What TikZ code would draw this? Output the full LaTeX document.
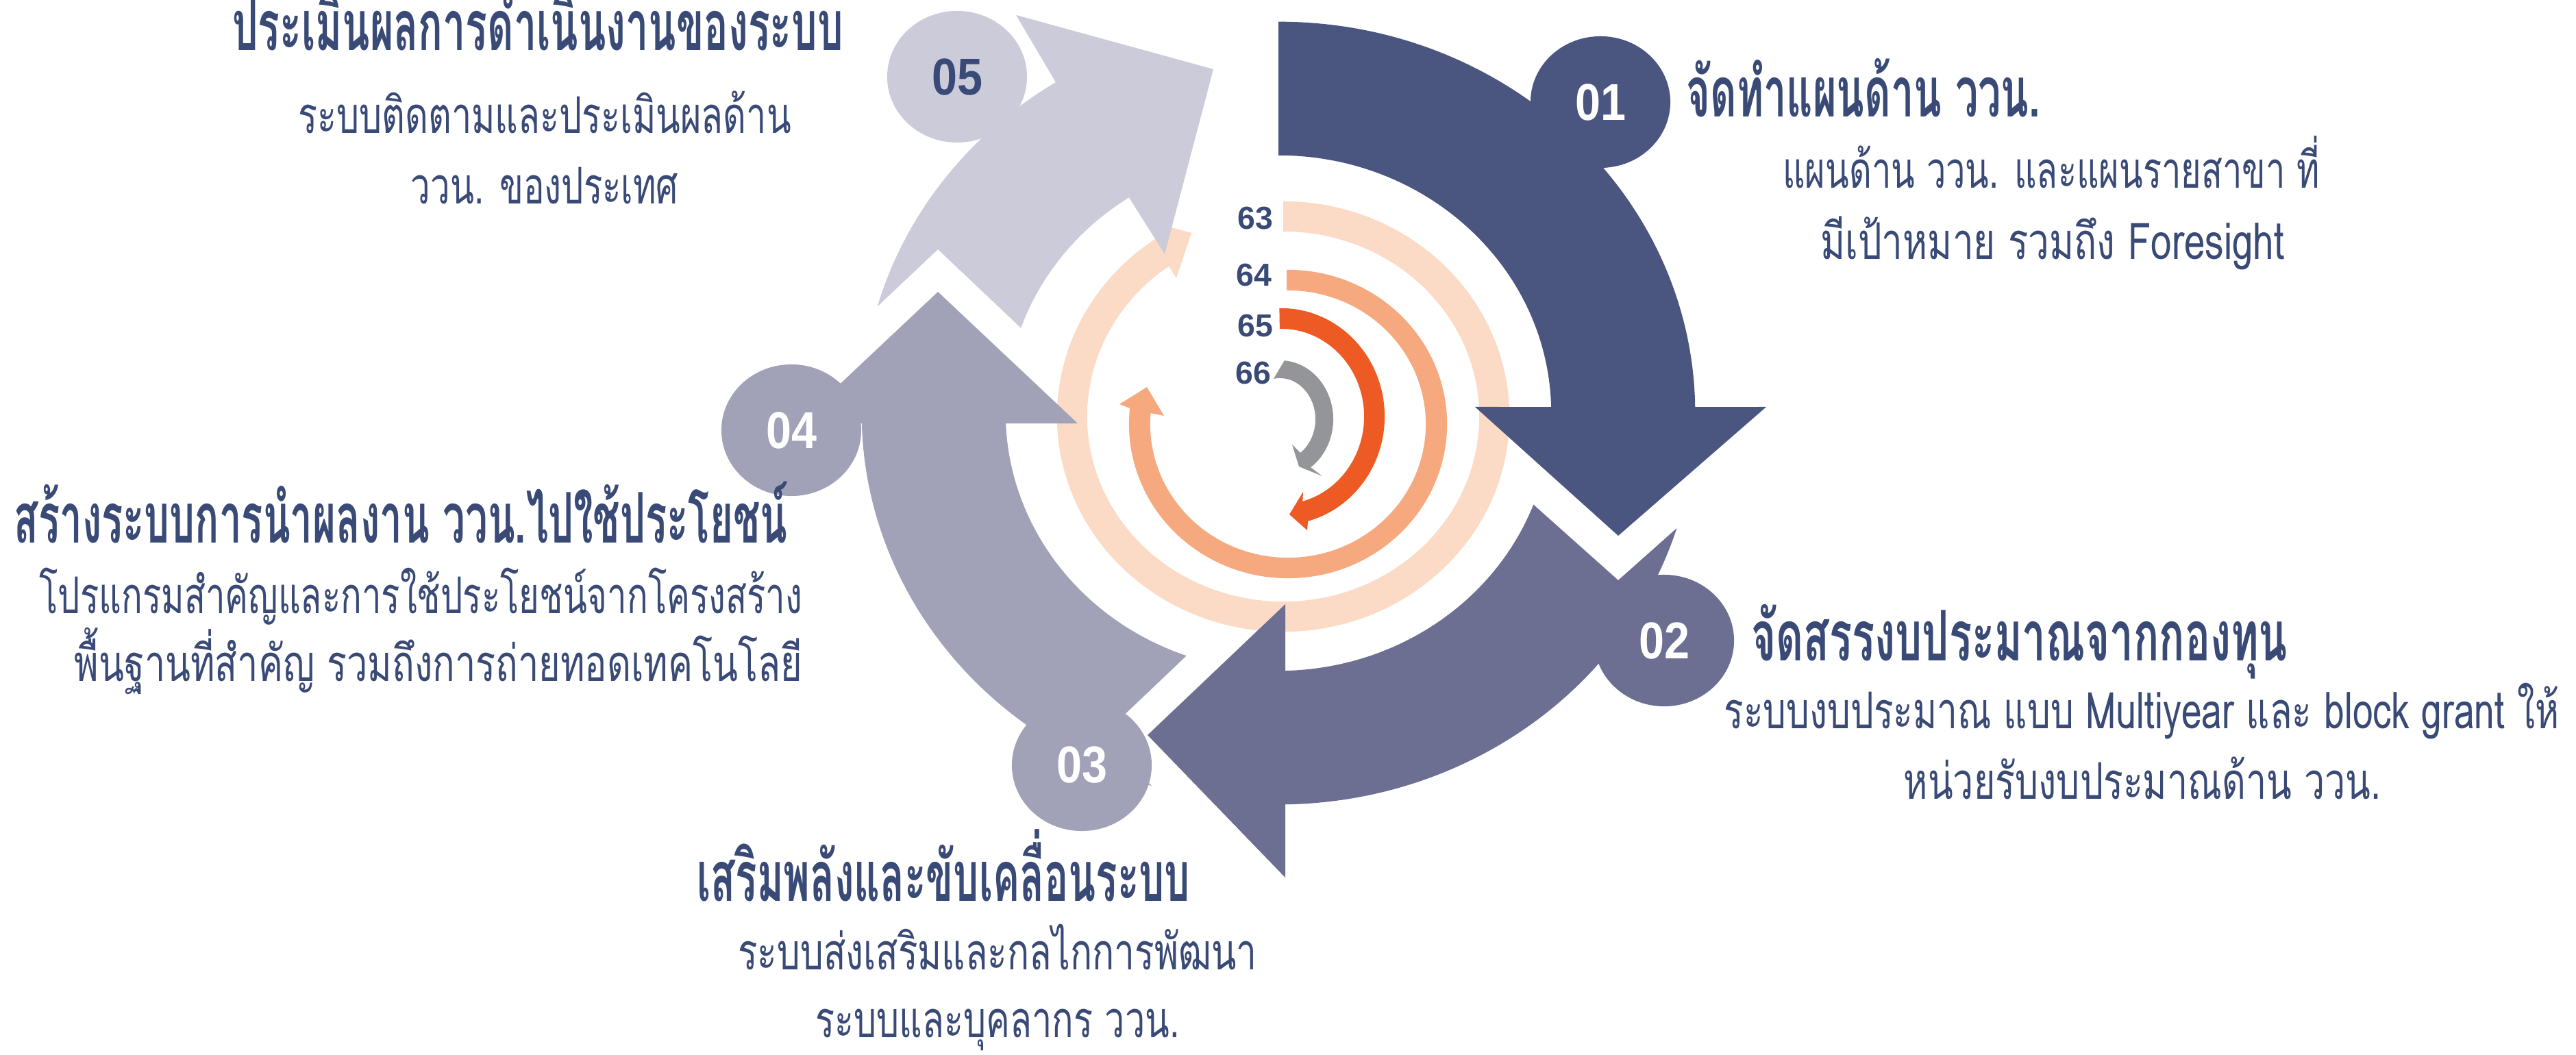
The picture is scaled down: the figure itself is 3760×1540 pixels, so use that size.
\documentclass[tikz,border=0pt]{standalone}
\usepackage{fontspec}
\usepackage{graphicx}
\usetikzlibrary{calc,shapes.geometric}
\newfontfamily\thaif[Script=Thai]{Loma}
\newfontfamily\numf{Liberation Sans}
\newfontfamily\numc[FakeStretch=0.88]{Liberation Sans}
\definecolor{aone}{HTML}{4A5680}
\definecolor{atwo}{HTML}{6C6F92}
\definecolor{athree}{HTML}{A1A1B8}
\definecolor{afive}{HTML}{CBCBDA}
\definecolor{peach}{HTML}{FCDBC6}
\definecolor{salmon}{HTML}{F6A97F}
\definecolor{orng}{HTML}{EE5A24}
\definecolor{grayr}{HTML}{949598}
\definecolor{navy}{HTML}{394A76}
\newcommand{\fitw}[2]{\resizebox{#1}{\height}{#2}}
\begin{document}
\begin{tikzpicture}[x=0.01cm,y=0.01cm,
  ttl/.style={inner sep=0pt,text=navy,font=\thaif\bfseries\fontsize{29}{32}\selectfont},
  sub/.style={inner sep=0pt,text=navy,font=\thaif\fontsize{21}{24}\selectfont},
  badge/.style={ellipse,minimum width=2.04cm,minimum height=1.92cm,inner sep=0pt,font=\numc\bfseries\fontsize{21.5}{22}\selectfont},
  yr/.style={inner sep=0pt,text=navy,font=\numf\bfseries\fontsize{13.2}{14}\selectfont}]
\fill[white] (0,0) rectangle (3760,-1540);
\useasboundingbox (0,0) rectangle (3760,-1540);
\coordinate (O) at (1866,-603);
\coordinate (R63) at (1873,-608);
\coordinate (R64) at (1880,-619);
\coordinate (R65) at (1870,-608);
\coordinate (R66) at (1868,-612);
% inner rings
\fill[peach] ($(R63)+(90:3.30cm and 3.14cm)$) arc[start angle=90,end angle=-236.1,x radius=3.30cm,y radius=3.14cm]
  -- (1677,-323) -- (1739,-340) -- (1717,-406)
  -- ($(R63)+(-234.3:2.86cm and 2.70cm)$) arc[start angle=-234.3,end angle=90,x radius=2.86cm,y radius=2.70cm] -- cycle;
\fill[salmon] ($(R64)+(90.5:2.32cm and 2.25cm)$) arc[start angle=90.5,end angle=-185.9,x radius=2.32cm,y radius=2.25cm]
  -- (1634,-590) -- (1674,-565) -- (1699,-607)
  -- ($(R64)+(-184.7:2.01cm and 1.95cm)$) arc[start angle=-184.7,end angle=90.5,x radius=2.01cm,y radius=1.95cm] -- cycle;
\fill[orng] ($(R65)+(91:1.51cm and 1.58cm)$) arc[start angle=91,end angle=-75,x radius=1.51cm,y radius=1.58cm]
  -- (1908,-774) -- (1882,-751) -- (1902,-718)
  -- ($(R65)+(-75:1.21cm and 1.28cm)$) arc[start angle=-75,end angle=91,x radius=1.21cm,y radius=1.28cm] -- cycle;
\fill[grayr] ($(R66)+(85:0.78cm and 0.86cm)$) arc[start angle=85,end angle=-54.7,x radius=0.78cm,y radius=0.86cm]
  -- (1930,-695) -- (1896,-681) -- (1886,-649)
  -- ($(R66)+(-54.7:0.52cm and 0.60cm)$) arc[start angle=-54.7,end angle=100,x radius=0.52cm,y radius=0.60cm] -- cycle;
\node[yr] (y63) at (1832,-319) {63};
\node[yr] (y64) at (1830,-402) {64};
\node[yr] (y65) at (1832,-476) {65};
\node[yr] (y66) at (1829,-545) {66};
% big arrows
\fill[athree] ($(O)+(-107.7:6.08cm and 5.71cm)$) arc[start angle=-107.7,end angle=-178.5,x radius=6.08cm,y radius=5.71cm]
  -- (1165,-618) -- (1369,-426) -- (1573,-618)
  -- ($(O)+(-177.7:3.98cm and 3.76cm)$) arc[start angle=-177.7,end angle=-109.7,x radius=3.98cm,y radius=3.76cm]
  -- (1610,-1073) -- cycle;
\fill[atwo] ($(O)+(-17.1:6.08cm and 5.71cm)$) arc[start angle=-17.1,end angle=-89.06,x radius=6.08cm,y radius=5.71cm]
  -- (1876,-1281) -- (1675,-1073) -- (1876,-882)
  -- ($(O)+(-88.56:3.98cm and 3.76cm)$) arc[start angle=-88.56,end angle=-20.8,x radius=3.98cm,y radius=3.76cm]
  -- (2362,-847) -- cycle;
\fill[aone] ($(O)+(90:6.08cm and 5.71cm)$) arc[start angle=90,end angle=0.9,x radius=6.08cm,y radius=5.71cm]
  -- (2578,-594) -- (2362,-782) -- (2153,-594)
  -- ($(O)+(1.37:3.98cm and 3.76cm)$) arc[start angle=1.37,end angle=90,x radius=3.98cm,y radius=3.76cm] -- cycle;
\fill[afive] ($(O)+(164.2:6.08cm and 5.71cm)$) arc[start angle=164.2,end angle=122.3,x radius=6.08cm,y radius=5.71cm]
  -- (1483,-22) -- (1771,-101) -- (1700,-371)
  -- ($(O)+(123.2:3.98cm and 3.76cm)$) arc[start angle=123.2,end angle=160.7,x radius=3.98cm,y radius=3.76cm]
  -- (1369,-364) -- cycle;
% badges
\node[badge,fill=aone,text=white] (c01) at (2336,-149) {01};
\node[badge,fill=atwo,text=white] (c02) at (2429,-935) {02};
\node[badge,fill=athree,text=white] (c03) at (1579,-1117) {03};
\node[badge,fill=athree,text=white] (c04) at (1155,-628) {04};
\node[badge,fill=afive,text=navy] (c05) at (1397,-112) {05};
% texts 01
\node[ttl,anchor=base west] (t01) at (2461,-171) {\fitw{5.16cm}{จัดทำแผนด้าน ววน.}};
\node[sub,anchor=base] (s01a) at (2994,-275) {\fitw{7.83cm}{แผนด้าน ววน. และแผนรายสาขา ที่}};
\node[sub,anchor=base] (s01b) at (2996,-379) {\fitw{6.77cm}{มีเป้าหมาย รวมถึง Foresight}};
% texts 02
\node[ttl,anchor=base west] (t02) at (2556,-965) {\fitw{7.82cm}{จัดสรรงบประมาณจากกองทุน}};
\node[sub,anchor=base] (s02a) at (3126,-1063) {\fitw{12.18cm}{ระบบงบประมาณ แบบ Multiyear และ block grant ให้}};
\node[sub,anchor=base] (s02b) at (3127,-1166) {\fitw{6.96cm}{หน่วยรับงบประมาณด้าน ววน.}};
% texts 03
\node[ttl,anchor=base west] (t03) at (1017,-1315) {\fitw{7.19cm}{เสริมพลังและขับเคลื่อนระบบ}};
\node[sub,anchor=base] (s03a) at (1456,-1415) {\fitw{7.57cm}{ระบบส่งเสริมและกลไกการพัฒนา}};
\node[sub,anchor=base] (s03b) at (1456,-1514) {\fitw{5.31cm}{ระบบและบุคลากร ววน.}};
% texts 04
\node[ttl,anchor=base east] (t04) at (1150,-793) {\fitw{11.28cm}{สร้างระบบการนำผลงาน ววน.ไปใช้ประโยชน์}};
\node[sub,anchor=base east] (s04a) at (1172,-895) {\fitw{11.13cm}{โปรแกรมสำคัญและการใช้ประโยชน์จากโครงสร้าง}};
\node[sub,anchor=base east] (s04b) at (1172,-994) {\fitw{10.62cm}{พื้นฐานที่สำคัญ รวมถึงการถ่ายทอดเทคโนโลยี}};
% texts 05
\node[ttl,anchor=base] (t05) at (785,-74) {\fitw{8.91cm}{ประเมินผลการดำเนินงานของระบบ}};
\node[sub,anchor=base] (s05a) at (795,-195) {\fitw{7.19cm}{ระบบติดตามและประเมินผลด้าน}};
\node[sub,anchor=base] (s05b) at (795,-298) {\fitw{3.90cm}{ววน. ของประเทศ}};
\end{tikzpicture}
\end{document}
